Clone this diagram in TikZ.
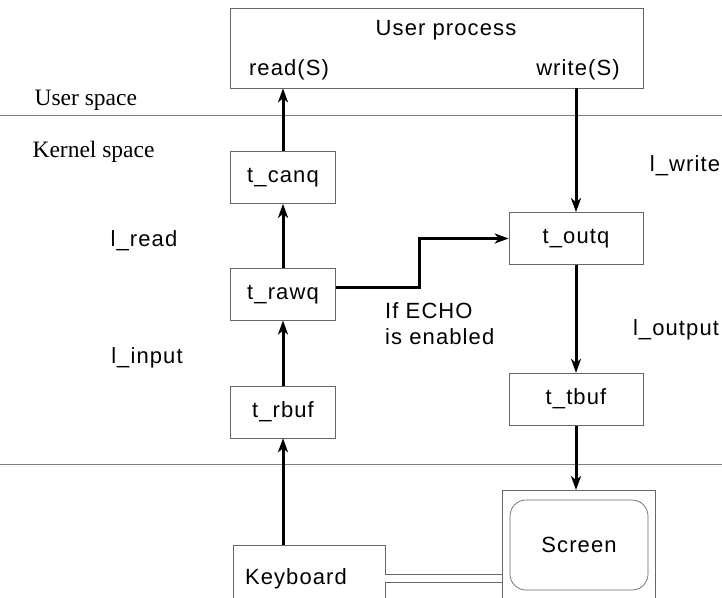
\documentclass[tikz,border=0pt]{standalone}
\usepackage{fontspec}
\setmainfont{Liberation Serif}
\setsansfont{Liberation Sans}[LetterSpace=5]
\usetikzlibrary{positioning,arrows.meta}
\tikzset{
  lbl/.style={font=\sffamily\fontsize{22}{26}\selectfont},
  buf/.style={lbl,draw=black!60,line width=0.7pt,minimum height=52pt,inner sep=0pt},
  inbuf/.style={buf,minimum width=105pt},
  outbuf/.style={buf,minimum width=134pt},
  flow/.style={-{Stealth[length=14pt,width=10pt,inset=4pt]},line width=3pt},
  spacelbl/.style={font=\rmfamily\fontsize{23.5}{27}\selectfont,anchor=west},
  sep/.style={draw=black!50,line width=0.7pt},
}

\begin{document}
\begin{tikzpicture}[x=1pt,y=-1pt,>=Stealth]
  \useasboundingbox (0,0) rectangle (722,597);
  % user process
  \node[draw=black!60,line width=0.7pt,minimum width=413pt,minimum height=80pt] (up) at (436.5,48) {};
  \node[lbl] (upt) at (446,30) {User process};
  \node[lbl] (rd) at (289,70) {read(S)};
  \node[lbl] (wr) at (578,70) {write(S)};
  % spaces
  \coordinate (s1) at (0,115); \coordinate (s1e) at (722,115);
  \coordinate (s2) at (0,464); \coordinate (s2e) at (722,464);
  \draw[sep] (s1) -- (s1e);
  \draw[sep] (s2) -- (s2e);
  \node[spacelbl] (us) at (31,100) {User space};
  \node[spacelbl] (ks) at (29,152) {Kernel space};
  % input side
  \node[inbuf] (canq) at (283,177.5) {t\_canq};
  \node[inbuf,below=64pt of canq] (rawq) {t\_rawq};
  \node[inbuf,below=65pt of rawq] (rbuf) {t\_rbuf};
  \node[lbl,draw=black!60,line width=0.7pt,anchor=north,minimum height=66pt,
        text width=128pt,inner xsep=12pt,align=left] (kbd) at (309,545) {Keyboard};
  % output side
  \node[outbuf] (outq) at (576,238.5) {t\_outq};
  \node[outbuf,below=108pt of outq] (tbuf) {t\_tbuf};
  \node[draw=black!60,line width=0.7pt,anchor=north,minimum width=153pt,minimum height=130pt] (scr) at (578.5,490) {};
  \node[lbl,draw=black!60,line width=0.7pt,rounded corners=16pt,minimum width=138pt,minimum height=90pt] (scrin) at (579,545) {Screen};
  % labels
  \node[lbl] (lread) at (144,241) {l\_read};
  \node[lbl] (linput) at (147,358) {l\_input};
  \node[lbl] (lwrite) at (685,166) {l\_write};
  \node[lbl] (loutput) at (676,330) {l\_output};
  \node[lbl,align=left,anchor=north west,inner sep=0pt] (echo) at (385,302) {If ECHO\\is enabled};
  % arrows
  \draw[flow] (canq) -- (canq |- up.south);
  \draw[flow] (rawq) -- (canq);
  \draw[flow] (rbuf) -- (rawq);
  \draw[flow] (kbd.north -| rbuf) -- (rbuf);
  \draw[flow] (up.south -| outq) -- (outq);
  \draw[flow] (outq) -- (tbuf);
  \draw[flow] (tbuf) -- (tbuf |- scr.north);
  \draw[flow] ([yshift=7pt]rawq.east) -- ++(84,0) |- (outq.west);
  \draw[draw=black!60,line width=0.7pt,double,double distance=7pt] (kbd.east) -- (kbd.east -| scr.west);
\end{tikzpicture}
\end{document}
